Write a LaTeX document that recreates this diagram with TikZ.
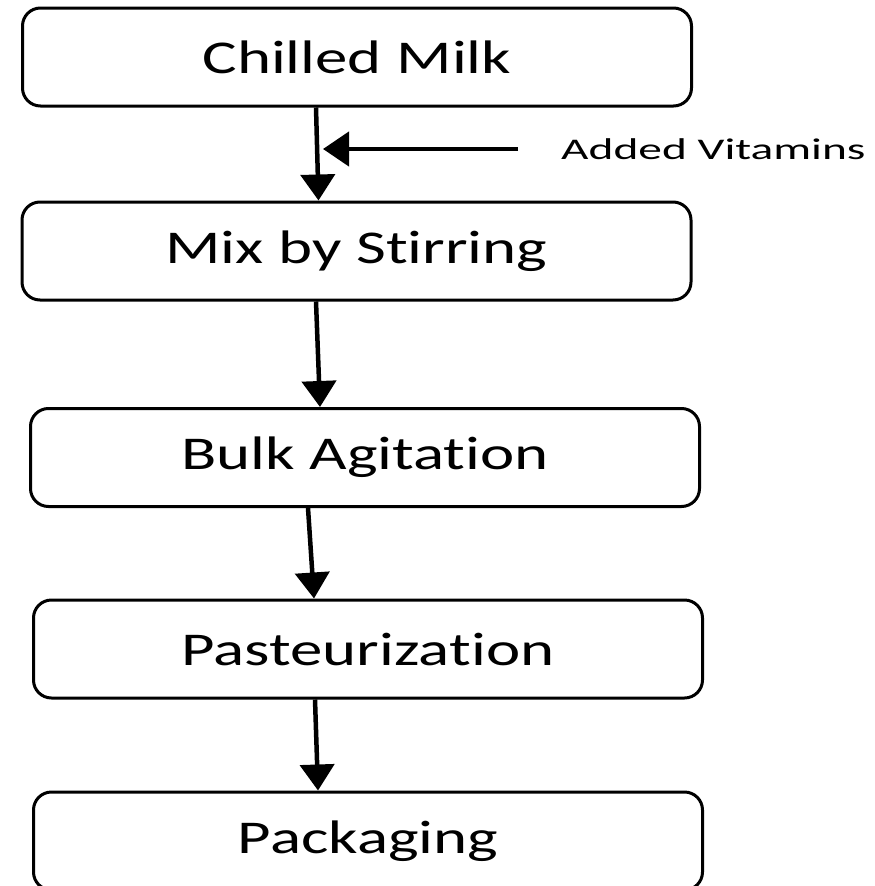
\documentclass[tikz,border=0pt]{standalone}
\usepackage{fontspec}
\setmainfont{Carlito}
\newfontfamily\stagefont[FakeStretch=1.38,Ligatures=NoCommon]{Carlito}
\newfontfamily\notefont[FakeStretch=1.58,Ligatures=NoCommon]{Carlito}
\usetikzlibrary{arrows.meta}

\tikzset{
    stage/.style={draw, line width=3pt, rounded corners=18pt, minimum width=669pt,
        minimum height=98pt, inner sep=0pt, font=\stagefont\fontsize{47}{56}\selectfont},
    flow/.style={line width=4.5pt, -{Triangle[width=34pt,length=26pt]}}
}

\begin{document}
\begin{tikzpicture}[x=1pt,y=1pt]
            \useasboundingbox (0, 0) rectangle (875, -886);

            \node[stage] (chilled) at (357, -57) {Chilled Milk};
            \node[stage] (mix) at (356.5, -251) {Mix by Stirring};
            \node[stage] (bulk) at (365, -457.5) {Bulk Agitation};
            \node[stage] (past) at (368, -649) {Pasteurization};
            \node[stage] (pack) at (368, -841) {Packaging};

            \node[anchor=west, inner sep=0pt, font=\notefont\fontsize{30}{36}\selectfont] (vit) at (561, -149) {Added Vitamins};
            \coordinate (vtip) at (323, -149);

            \draw[flow] ([xshift=-41pt]chilled.south) to ([xshift=-38pt]mix.north);
            \draw[flow] ([xshift=-43pt]vit.west) to (vtip);
            \draw[flow] ([xshift=-40.5pt]mix.south) to ([xshift=-45pt]bulk.north);
            \draw[flow] ([xshift=-57pt]bulk.south) to ([xshift=-54pt]past.north);
            \draw[flow] ([xshift=-53pt]past.south) to ([xshift=-50pt]pack.north);
        \end{tikzpicture}
\end{document}
